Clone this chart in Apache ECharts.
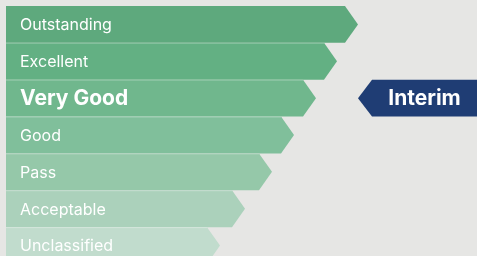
<!DOCTYPE html>
<html>
<head>
<meta charset="utf-8">
<script src="https://cdn.jsdelivr.net/npm/echarts@6/dist/echarts.min.js"></script>
<style>
  html, body { margin: 0; padding: 0; background: #e6e6e4; }
  #chart { width: 477px; height: 256px; }
</style>
</head>
<body>
<div id="chart"></div>
<script>
// rating bands, top to bottom
var ratings = ["Outstanding", "Excellent", "Very Good", "Good", "Pass", "Acceptable", "Unclassified"];
// length of each arrow (to its tip)
var bandLength = [352, 331, 310, 288, 266, 239, 214];
var bandColors = ["#5ea97d", "#63b083", "#70b78d", "#80bf9b", "#95c8a9", "#abd1bb", "#c1dccd"];
// interim result marker
var interimRating = "Very Good";
var interimLabel = "Interim";
var interimPos = 352;

var myChart = echarts.init(document.getElementById("chart"));

function renderBand(params, api) {
  var len = api.value(0);
  var idx = api.value(1);
  var start = api.coord([0, idx]);
  var end = api.coord([len, idx]);
  var h = api.size([0, 1])[1];
  var top = start[1] - h / 2;
  var bot = start[1] + h / 2;
  var tip = 13;
  var bold = ratings[idx] === interimRating;
  var children = [
    {
      type: "polygon",
      shape: {
        points: [[start[0], top], [end[0] - tip, top], [end[0], start[1]], [end[0] - tip, bot], [start[0], bot]]
      },
      style: { fill: bandColors[idx] }
    },
    {
      type: "text",
      style: {
        x: start[0] + 14,
        y: start[1] + 1,
        text: ratings[idx],
        fill: "#ffffff",
        font: (bold ? "bold 21px" : "16px") + " Inter, sans-serif",
        verticalAlign: "middle"
      }
    }
  ];
  if (idx > 0) {
    children.push({
      type: "line",
      shape: { x1: start[0], y1: top + 0.5, x2: end[0] - tip, y2: top + 0.5 },
      style: { stroke: "rgba(255,255,255,0.25)", lineWidth: 1 }
    });
  }
  return { type: "group", children: children };
}

function renderInterim(params, api) {
  var pos = api.value(0);
  var idx = api.value(1);
  var p = api.coord([pos, idx]);
  var right = api.coord([471, idx])[0];
  var h = api.size([0, 1])[1];
  var top = p[1] - h / 2;
  var bot = p[1] + h / 2;
  var tip = 14;
  return {
    type: "group",
    children: [
      {
        type: "polygon",
        shape: { points: [[p[0], p[1]], [p[0] + tip, top], [right, top], [right, bot], [p[0] + tip, bot]] },
        style: { fill: "#1f3d74" }
      },
      {
        type: "text",
        style: {
          x: (p[0] + tip + right) / 2,
          y: p[1] + 1,
          text: interimLabel,
          fill: "#ffffff",
          font: "bold 21px Inter, sans-serif",
          align: "center",
          verticalAlign: "middle"
        }
      }
    ]
  };
}

myChart.setOption({
  backgroundColor: "#e6e6e4",
  animation: false,
  grid: { left: 6, right: 0, top: 6, height: 258, containLabel: false, outerBoundsMode: "none" },
  xAxis: { type: "value", min: 0, max: 471, show: false },
  yAxis: { type: "category", data: ratings, inverse: true, show: false },
  series: [
    {
      type: "custom",
      renderItem: renderBand,
      encode: { x: 0, y: 1 },
      data: bandLength.map(function (v, i) { return [v, i]; })
    },
    {
      type: "custom",
      renderItem: renderInterim,
      encode: { x: 0, y: 1 },
      data: [[interimPos, ratings.indexOf(interimRating)]]
    }
  ]
});
</script>
</body>
</html>
